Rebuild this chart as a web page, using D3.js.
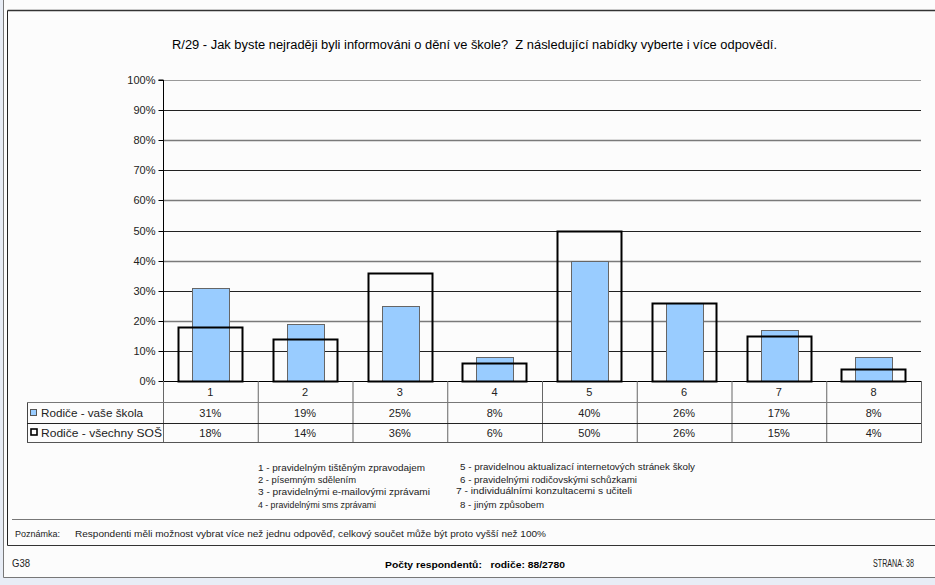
<!DOCTYPE html>
<html><head><meta charset="utf-8">
<script src="https://cdn.jsdelivr.net/npm/d3@7/dist/d3.min.js"></script>
<style>
html,body{margin:0;padding:0;background:#fcfcfc;}
svg{display:block;font-family:"Liberation Sans",Arial,sans-serif;}
text{white-space:pre;}
</style></head>
<body>
<svg id="c" width="935" height="585"></svg>
<script>
const categories = ['1','2','3','4','5','6','7','8'];
const seriesNames = ['Rodiče - vaše škola', 'Rodiče - všechny SOŠ'];
const vaseSkola = [31, 19, 25, 8, 40, 26, 17, 8];
const vsechnySOS = [18, 14, 36, 6, 50, 26, 15, 4];
const yTicks = [0,10,20,30,40,50,60,70,80,90,100];
const title = 'R/29 - Jak byste nejraději byli informováni o dění ve škole?  Z následující nabídky vyberte i více odpovědí.';
const notesLeft = ['1 - pravidelným tištěným zpravodajem','2 - písemným sdělením','3 - pravidelnými e-mailovými zprávami','4 - pravidelnými sms zprávami'];
const notesRight = ['5 - pravidelnou aktualizací internetových stránek školy','6 - pravidelnými rodičovskými schůzkami','7 - individuálními konzultacemi s učiteli','8 - jiným způsobem'];
const noteLabel = 'Poznámka:';
const noteText = 'Respondenti měli možnost vybrat více než jednu odpověď, celkový součet může být proto vyšší než 100%';
const footerLeft = 'G38';
const footerCenter = 'Počty respondentů:   rodiče: 88/2780';
const footerRight = 'STRANA: 38';

const svg = d3.select('#c');
const L = 163, R = 921, T = 80, B = 381;
const x = d3.scaleBand().domain(categories).range([L, R]).paddingInner(0).paddingOuter(0);
const y = d3.scaleLinear().domain([0, 100]).range([B, T]);
const bw = x.bandwidth();

// background bands / frame
svg.append('rect').attr('x',0).attr('y',0).attr('width',3).attr('height',585).attr('fill','#e8edf6');
svg.append('rect').attr('x',0).attr('y',577).attr('width',935).attr('height',8).attr('fill','#e8edf6');
const line = (x1,y1,x2,y2,c,w)=>svg.append('line').attr('x1',x1).attr('y1',y1).attr('x2',x2).attr('y2',y2).attr('stroke',c).attr('stroke-width',w||1);
line(3.5,0,3.5,577.5,'#777');
line(3.5,577.5,935,577.5,'#777');
line(7.5,10.5,935,10.5,'#333',1.5);
line(7.5,10.5,7.5,545.5,'#222');
line(7.5,545.5,935,545.5,'#333');
line(12,519.5,935,519.5,'#777');

// title
svg.append('text').attr('x',172).attr('y',49).attr('font-size',12.5).attr('fill','#000')
  .attr('textLength',605).attr('lengthAdjust','spacingAndGlyphs').text(title);

// grid
const g = svg.append('g');
g.selectAll('line.grid').data(yTicks.filter(d=>d>0)).join('line')
  .attr('x1',L).attr('x2',R)
  .attr('y1',d=>Math.round(y(d))+0.5).attr('y2',d=>Math.round(y(d))+0.5)
  .attr('stroke',d=>d===100?'#999':(d%20===0?'#7a7a7a':'#222'))
  .attr('stroke-width',d=>d===100?1:(d%20===0?1.6:1));

// y axis
const yAxis = d3.axisLeft(y).tickValues(yTicks).tickFormat(d=>d+'%').tickSize(5).tickPadding(3);
const ya = svg.append('g').attr('transform',`translate(${L+0.5},0)`).call(yAxis);
ya.select('.domain').attr('stroke','#000').attr('d',`M-5,${y(100)}H0V${B}`);
ya.selectAll('.tick line').attr('stroke','#000');
ya.selectAll('.tick').attr('transform',d=>`translate(0,${Math.round(y(d))+0.5})`);
ya.selectAll('text').attr('font-size',11).attr('fill','#222').attr('font-family','"Liberation Sans",Arial,sans-serif');

// blue bars
const blueOff = 29/94.75*bw, blueW = 37/94.75*bw;
svg.append('g').selectAll('rect').data(vaseSkola).join('rect')
  .attr('x',(d,i)=>Math.round(x(categories[i])+blueOff)+0.5)
  .attr('y',d=>Math.round(y(d))+0.5)
  .attr('width',Math.round(blueW))
  .attr('height',d=>B-Math.round(y(d)))
  .attr('fill','#99ccff').attr('stroke','#666').attr('stroke-width',1);

// outline bars
const outOff = 15/94.75*bw, outW = 64/94.75*bw;
svg.append('g').selectAll('rect').data(vsechnySOS).join('rect')
  .attr('x',(d,i)=>Math.round(x(categories[i])+outOff)+0.5)
  .attr('y',d=>Math.round(y(d))+0.5)
  .attr('width',Math.round(outW))
  .attr('height',d=>B-Math.round(y(d)))
  .attr('fill','none').attr('stroke','#000').attr('stroke-width',2);

// x axis baseline
line(L,B+0.5,R,B+0.5,'#000');

// data table
const tl = 27;
categories.forEach((c,i)=>{
  line(x(c)+0.5, B, x(c)+0.5, 442, '#666');
});
line(R+0.5, B, R+0.5, 442.5, '#666');
line(tl+0.5, 402, tl+0.5, 442.5, '#444');
line(tl, 402.5, R, 402.5, '#777');
line(tl, 423.5, R, 423.5, '#222');
line(tl, 442.5, R+1, 442.5, '#555');

svg.append('g').selectAll('text').data(categories).join('text')
  .attr('x',d=>x(d)+bw/2).attr('y',396).attr('text-anchor','middle').attr('font-size',11).attr('fill','#222').text(d=>d);
const rows = [vaseSkola, vsechnySOS];
rows.forEach((arr,r)=>{
  svg.append('g').selectAll('text').data(arr).join('text')
    .attr('x',(d,i)=>x(categories[i])+bw/2).attr('y',417+r*20).attr('text-anchor','middle')
    .attr('font-size',11).attr('fill','#222').text(d=>d+'%');
});
// legend keys
svg.append('rect').attr('x',30.5).attr('y',409.5).attr('width',6).attr('height',6).attr('fill','#99ccff').attr('stroke','#555');
svg.append('rect').attr('x',31).attr('y',429).attr('width',6).attr('height',6).attr('fill','none').attr('stroke','#000').attr('stroke-width',1.6);
const legW = [102,121];
seriesNames.forEach((s,r)=>{
  svg.append('text').attr('x',41).attr('y',417+r*20).attr('font-size',11).attr('fill','#222')
    .attr('textLength',legW[r]).attr('lengthAdjust','spacingAndGlyphs').text(s);
});

// notes
const leftY = [471,483,495,508];
const leftW = [167,98,172,118];
notesLeft.forEach((t,i)=>{
  svg.append('text').attr('x',258).attr('y',leftY[i]).attr('font-size',9.5).attr('fill','#222')
    .attr('textLength',leftW[i]).attr('lengthAdjust','spacingAndGlyphs').text(t);
});
const rightX = [460,460,456,460];
const rightY = [470,483,494,508];
const rightW = [235,177,176,84];
notesRight.forEach((t,i)=>{
  svg.append('text').attr('x',rightX[i]).attr('y',rightY[i]).attr('font-size',9.5).attr('fill','#222')
    .attr('textLength',rightW[i]).attr('lengthAdjust','spacingAndGlyphs').text(t);
});

// note row
svg.append('text').attr('x',15).attr('y',537).attr('font-size',9).attr('fill','#222')
  .attr('textLength',45).attr('lengthAdjust','spacingAndGlyphs').text(noteLabel);
svg.append('text').attr('x',75).attr('y',537).attr('font-size',9).attr('fill','#222')
  .attr('textLength',471).attr('lengthAdjust','spacingAndGlyphs').text(noteText);

// footer
svg.append('text').attr('x',12).attr('y',567).attr('font-size',10).attr('fill','#222')
  .attr('textLength',18).attr('lengthAdjust','spacingAndGlyphs').text(footerLeft);
svg.append('text').attr('x',385).attr('y',568).attr('font-size',9.5).attr('font-weight','bold').attr('fill','#000')
  .attr('textLength',180).attr('lengthAdjust','spacingAndGlyphs').text(footerCenter);
svg.append('text').attr('x',873).attr('y',567).attr('font-size',10).attr('fill','#222')
  .attr('textLength',41).attr('lengthAdjust','spacingAndGlyphs').text(footerRight);
</script>
</body></html>
